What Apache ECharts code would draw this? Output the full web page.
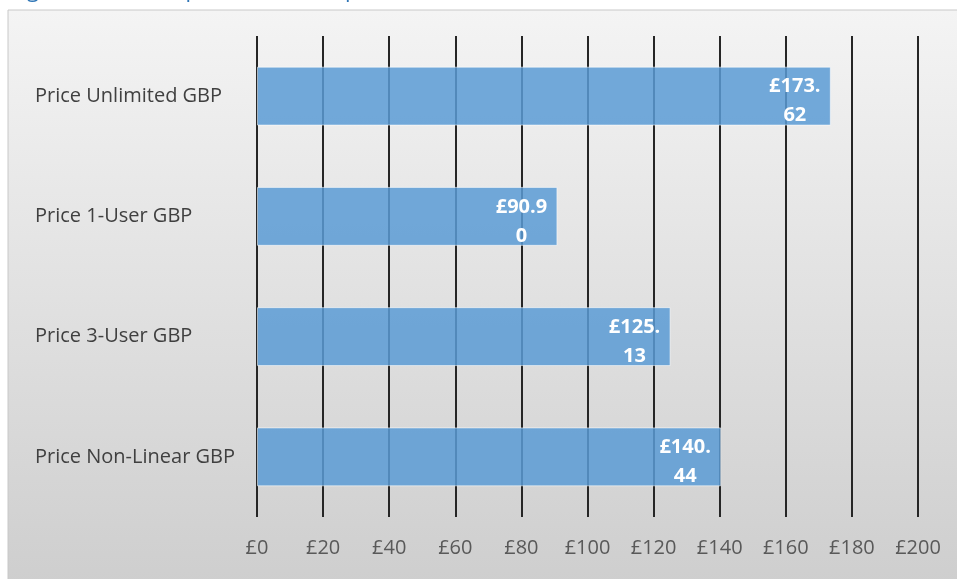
<!DOCTYPE html>
<html>
<head>
<meta charset="utf-8">
<script src="https://cdn.jsdelivr.net/npm/echarts@6/dist/echarts.min.js"></script>
<style>
html, body { margin: 0; padding: 0; background: #fff; }
#chart { width: 957px; height: 579px; }
</style>
</head>
<body>
<div id="chart"></div>
<script>
var categories = ['Price Unlimited GBP', 'Price 1-User GBP', 'Price 3-User GBP', 'Price Non-Linear GBP'];
var prices = [173.62, 90.90, 125.13, 140.44];
var xTicks = { min: 0, max: 200, step: 20 };

var myChart = echarts.init(document.getElementById('chart'));

// label wraps after 5 characters like the original narrow data label box
function priceLabel(p) {
    var s = '£' + p.value.toFixed(2);
    return '{a|' + s.slice(0, 5) + '}\n{a|' + s.slice(5) + '}';
}

myChart.setOption({
    animation: false,
    graphic: [
        {
            type: 'rect',
            z: -10,
            shape: { x: 8, y: 10, width: 960, height: 590 },
            style: {
                fill: new echarts.graphic.LinearGradient(0, 0, 0, 1, [
                    { offset: 0, color: '#f4f4f4' },
                    { offset: 1, color: '#cdcdcd' }
                ]),
                stroke: '#c8c8c8',
                lineWidth: 1
            }
        },
        {
            type: 'text',
            z: -5,
            x: 10,
            y: 2,
            style: {
                text: 'Figure 7: Licence price for each option',
                font: '22px "Open Sans"',
                fill: '#2e75b6',
                verticalAlign: 'bottom'
            }
        }
    ],
    grid: {
        left: 257,
        right: 39,
        top: 36,
        bottom: 62
    },
    xAxis: {
        type: 'value',
        min: xTicks.min,
        max: xTicks.max,
        interval: xTicks.step,
        axisLine: { show: false },
        axisTick: { show: false },
        axisLabel: {
            formatter: '£{value}',
            color: '#595959',
            fontFamily: 'Open Sans',
            fontSize: 20,
            margin: 21
        },
        splitLine: {
            show: true,
            lineStyle: { color: '#262626', width: 2 }
        }
    },
    yAxis: {
        type: 'category',
        data: categories,
        inverse: true,
        axisLine: { show: false },
        axisTick: { show: false },
        axisLabel: {
            align: 'left',
            margin: 222,
            padding: [12, 0, 0, 0],
            color: '#404040',
            fontFamily: 'Open Sans',
            fontSize: 20
        }
    },
    series: [
        {
            type: 'bar',
            data: prices,
            barWidth: '49%',
            itemStyle: {
                color: 'rgba(91,155,213,0.85)',
                borderColor: 'rgba(255,255,255,0.55)',
                borderWidth: 1
            },
            label: {
                show: true,
                position: 'insideRight',
                distance: 5,
                offset: [0, 5],
                formatter: priceLabel,
                rich: {
                    a: {
                        width: 62,
                        align: 'center',
                        color: '#fff',
                        fontFamily: 'Open Sans',
                        fontWeight: 'bold',
                        fontSize: 20,
                        lineHeight: 29
                    }
                }
            }
        }
    ]
});

window.addEventListener('resize', function () {
    myChart.resize();
});
</script>
</body>
</html>
